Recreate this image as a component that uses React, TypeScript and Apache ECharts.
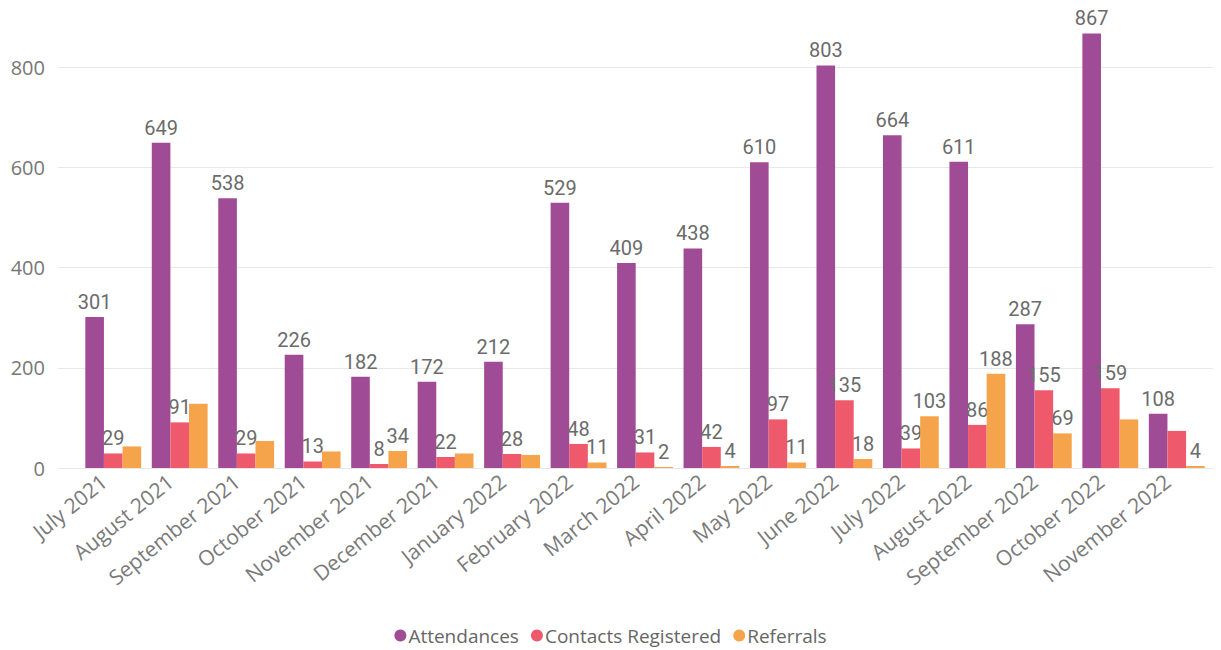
import React, { useEffect, useRef } from "react";
import * as echarts from "echarts";

const categories = [
  "July 2021", "August 2021", "September 2021", "October 2021", "November 2021",
  "December 2021", "January 2022", "February 2022", "March 2022", "April 2022",
  "May 2022", "June 2022", "July 2022", "August 2022", "September 2022",
  "October 2022", "November 2022",
];
const attendances = [301, 649, 538, 226, 182, 172, 212, 529, 409, 438, 610, 803, 664, 611, 287, 867, 108];
const contacts = [29, 91, 29, 13, 8, 22, 28, 48, 31, 42, 97, 135, 39, 86, 155, 159, 74];
const referrals = [43, 128, 54, 33, 34, 29, 26, 11, 2, 4, 11, 18, 103, 188, 69, 97, 4];
// labels hidden in the reference (overlap suppression)
const hiddenReferralLabels = [0, 1, 2, 3, 5, 6, 15];
const hiddenContactLabels = [16];
const yTicks = [0, 200, 400, 600, 800];

const COLORS = ["#A04B96", "#EE5A6B", "#F6A44B"];

export default function App() {
  const ref = useRef<HTMLDivElement>(null);
  useEffect(() => {
    if (!ref.current) return;
    const chart = echarts.init(ref.current, null, { renderer: "svg" });
    const labelStyle = {
      show: true,
      position: "top" as const,
      distance: 5,
      color: "#6b6b6b",
      fontSize: 20,
      fontFamily: "Roboto",
    };
    const mk = (vals: number[], hidden: number[]) =>
      vals.map((v, i) => (hidden.includes(i) ? { value: v, label: { show: false } } : v));
    chart.setOption({
      animation: false,
      color: COLORS,
      grid: [
        { left: 58, right: 8, top: 67, bottom: 182 },
        { left: 80, right: 11, top: 67, bottom: 182 },
      ],
      legend: {
        top: 621,
        left: "center",
        icon: "circle",
        itemWidth: 12,
        itemHeight: 12,
        itemGap: 12,
        textStyle: { color: "#666", fontSize: 19, fontFamily: "Open Sans", padding: [0, 0, 0, -3] },
        data: ["Attendances", "Contacts Registered", "Referrals"],
      },
      xAxis: [
        { gridIndex: 0, type: "value", show: false, min: 0, max: 1 },
        {
          gridIndex: 1,
          type: "category",
          data: categories,
          axisLine: { show: false },
          axisTick: { show: false },
          axisLabel: {
            interval: 0,
            rotate: 39,
            margin: 3,
            padding: [0, 12, 0, 0],
            color: "#7a7a7a",
            fontSize: 21,
            fontFamily: "Open Sans",
          },
        },
      ],
      yAxis: [
        {
          gridIndex: 0,
          type: "value",
          min: yTicks[0],
          max: yTicks[yTicks.length - 1],
          interval: 200,
          axisLine: { show: false },
          axisTick: { show: false },
          axisLabel: { color: "#777", fontSize: 20, fontFamily: "Open Sans", margin: 13 },
          splitLine: { lineStyle: { color: "#e8e8e8", width: 1 } },
        },
        {
          gridIndex: 1,
          type: "value",
          min: 0,
          max: 800,
          interval: 200,
          show: false,
          splitLine: { show: false },
        },
      ],
      series: [
        {
          name: "Attendances",
          type: "bar",
          xAxisIndex: 1,
          yAxisIndex: 1,
          z: 2,
          data: attendances,
          barGap: "0%",
          barCategoryGap: "16%",
          clip: false,
          label: labelStyle,
        },
        {
          name: "Contacts Registered",
          type: "bar",
          xAxisIndex: 1,
          yAxisIndex: 1,
          z: 3,
          data: mk(contacts, hiddenContactLabels),
          clip: false,
          label: labelStyle,
        },
        {
          name: "Referrals",
          type: "bar",
          xAxisIndex: 1,
          yAxisIndex: 1,
          z: 4,
          data: mk(referrals, hiddenReferralLabels),
          clip: false,
          label: labelStyle,
        },
      ],
    });
    return () => chart.dispose();
  }, []);
  return (
    <div
      ref={ref}
      style={{ position: "absolute", left: 0, top: 0, width: 1221, height: 650 }}
    />
  );
}
